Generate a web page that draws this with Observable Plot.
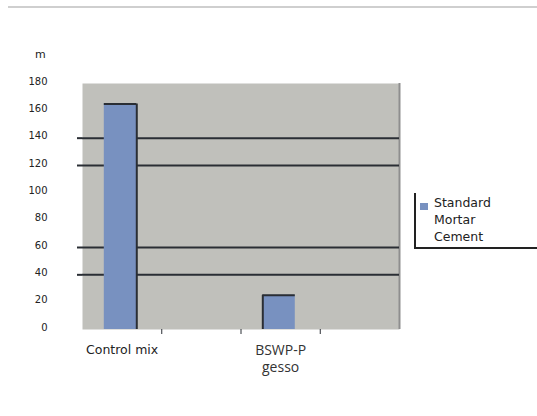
<!DOCTYPE html>
<html>
<head>
<meta charset="utf-8">
<script src="https://cdn.jsdelivr.net/npm/d3@7"></script>
<script src="https://cdn.jsdelivr.net/npm/@observablehq/plot@0.6"></script>
<style>
  html, body { margin: 0; padding: 0; background: #fff; }
  #wrap { position: relative; width: 537px; height: 416px; overflow: hidden; font-family: "DejaVu Sans", sans-serif; }
  #topline { position: absolute; left: 8px; top: 6px; width: 529px; height: 2px; background: #cfcfcf; }
  #unit { position: absolute; left: 35px; top: 48px; font-size: 11px; color: #222; }
  #chart { position: absolute; left: 0; top: 0; }
  #lgLeft { position: absolute; left: 414px; top: 193px; width: 1.5px; height: 55px; background: #222; }
  #lgBottom { position: absolute; left: 414px; top: 247px; width: 123px; height: 1.5px; background: #222; }
  #lgSw { position: absolute; left: 420px; top: 203px; width: 8px; height: 7px; }
  #lgLbl { position: absolute; left: 434px; top: 194px; font-size: 12.5px; line-height: 17px; color: #222; white-space: nowrap; }
</style>
</head>
<body>
<div id="wrap">
  <div id="topline"></div>
  <div id="chart"></div>
  <div id="unit"></div>
  <div id="lgLeft"></div>
  <div id="lgBottom"></div>
  <div id="lgSw"></div>
  <div id="lgLbl"></div>
</div>
<script>
// ---- data ----
const categories = ["Control mix", "", "BSWP-P\ngesso", ""];
const values = [165, null, 25, null];
const seriesName = "Standard Mortar Cement";
const yTicks = [0, 20, 40, 60, 80, 100, 120, 140, 160, 180];
const gridValues = [140, 120, 60, 40];
const unitLabel = "m";

// ---- styles ----
const barColor = "#7891c0";
const plotBg = "#c0c0bb";
const dark = "#2a2e34";

const rows = categories.map((c, i) => ({ i, c, v: values[i] }));
const bars = rows.filter(d => d.v != null);
const half = 0.205, off = 0.48;

const chart = Plot.plot({
  width: 537,
  height: 416,
  marginLeft: 82,
  marginRight: 138,
  marginTop: 83,
  marginBottom: 87,
  style: { background: "transparent", fontFamily: "DejaVu Sans, sans-serif" },
  x: { domain: [0, categories.length], axis: null },
  y: { domain: [0, 180], axis: null },
  marks: [
    Plot.frame({ fill: plotBg, stroke: null }),
    Plot.ruleX([categories.length], { stroke: "#8e8e8e", strokeWidth: 2 }),
    Plot.ruleY(gridValues, { stroke: dark, strokeWidth: 2 }),
    Plot.axisY({ ticks: gridValues, tickSize: 5, tickFormat: () => "", stroke: dark, strokeWidth: 2, label: null }),
    Plot.axisY({ ticks: yTicks, tickSize: 0, tickPadding: 35, fontSize: 10, fill: "#222", dy: -2, label: null }),
    Plot.axisX({ ticks: d3.range(1, categories.length), tickSize: 5, tickFormat: () => "", stroke: dark, label: null }),
    Plot.rectY(bars, { x1: d => d.i + off - half, x2: d => d.i + off + half, y1: 0, y2: "v", fill: barColor }),
    Plot.ruleY(bars, { x1: d => d.i + off - half, x2: d => d.i + off + half, y: "v", stroke: dark, strokeWidth: 2 }),
    Plot.ruleX(bars, { x: d => d.i === 0 ? d.i + off + half : d.i + off - half, y1: 0, y2: "v", stroke: dark, strokeWidth: 2 }),
    Plot.text(rows.filter(d => d.i === 0), { x: d => d.i + 0.5, y: 0, text: "c", lineAnchor: "top", dy: 15.5,
      fontSize: 12.5, fill: "#222", fontFamily: "DejaVu Sans" }),
    Plot.text(rows.filter(d => d.i === 2), { x: d => d.i + 0.5, y: 0, text: "c", lineAnchor: "top", dy: 13,
      fontSize: 14, lineHeight: 1.25, fill: "#333", fontFamily: "Open Sans" })
  ]
});
document.getElementById("chart").appendChild(chart);
document.getElementById("unit").textContent = unitLabel;
document.getElementById("lgSw").style.background = barColor;
document.getElementById("lgLbl").innerHTML = seriesName.split(" ").join("<br>");
</script>
</body>
</html>
